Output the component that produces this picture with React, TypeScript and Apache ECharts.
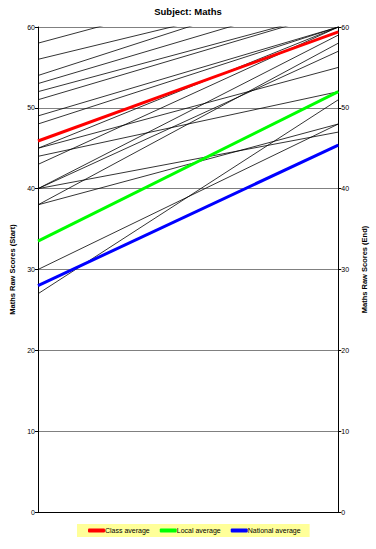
import React, { useEffect, useRef } from "react";
import * as echarts from "echarts";

const stages = ["Start", "End"];
const startScores = [58, 56, 54, 53, 52, 51, 49, 48, 45, 45, 44, 43, 40, 40, 40, 38, 38, 30, 27];
const endScores = [68, 65, 66, 64, 62, 62, 60, 60, 60, 55, 52, 60, 47, 59, 57, 48, 58, 48, 51];
const averageNames = ["Class average", "Local average", "National average"];
const averageStart = [45.9, 33.5, 28];
const averageEnd = [59.4, 52, 45.4];
const averageColors = ["#FF0000", "#00FF00", "#0000FF"];
const yTicks = [0, 10, 20, 30, 40, 50, 60];

export default function App() {
  const ref = useRef<HTMLDivElement>(null);
  useEffect(() => {
    const chart = echarts.init(ref.current!, null, { renderer: "svg" });
    const font = "Arial, 'Liberation Sans', sans-serif";
    const pupilSeries = startScores.map((s, i) => ({
      name: "pupil" + (i + 1),
      type: "line",
      xAxisIndex: 0,
      yAxisIndex: 0,
      data: [s, endScores[i]],
      symbol: "none",
      lineStyle: { color: "#000000", width: 0.8 },
      clip: true,
      silent: true,
    }));
    const avgSeries = averageNames.map((n, i) => ({
      name: n,
      type: "line",
      xAxisIndex: 0,
      yAxisIndex: 0,
      data: [averageStart[i], averageEnd[i]],
      symbol: "none",
      lineStyle: { color: averageColors[i], width: 3 },
      itemStyle: { color: averageColors[i] },
      clip: true,
      z: 5,
    }));
    const yAxisBase = {
      type: "value",
      min: yTicks[0],
      max: yTicks[yTicks.length - 1],
      interval: 10,
      nameLocation: "middle",
      nameTextStyle: { fontSize: 7.5, fontWeight: "bold", color: "#000", fontFamily: font },
      axisLine: { show: true, lineStyle: { color: "#000", width: 1 } },
      axisTick: { show: true, length: 3, inside: false, lineStyle: { color: "#000" } },
      axisLabel: { fontSize: 7, color: "#000", fontFamily: font, margin: 3 },
    };
    chart.setOption({
      animation: false,
      backgroundColor: "#ffffff",
      title: {
        text: "Subject: Maths",
        left: "center",
        top: 1,
        textStyle: { fontSize: 9.5, fontWeight: "bold", color: "#000", fontFamily: font },
      },
      grid: { left: 32, right: 36, top: 27, bottom: 37, containLabel: false },
      legend: {
        data: averageNames,
        bottom: 12,
        left: 77,
        backgroundColor: "#FFFF99",
        padding: [3, 9, 3, 11],
        itemGap: 10,
        itemWidth: 17,
        itemHeight: 4,
        icon: "roundRect",
        textStyle: { fontSize: 7, color: "#000", fontFamily: font, padding: [0, 0, 0, -5] },
      },
      xAxis: [
        {
          type: "category",
          data: stages,
          boundaryGap: false,
          position: "bottom",
          axisLine: { show: true, lineStyle: { color: "#000", width: 1 } },
          axisTick: { show: false },
          axisLabel: { show: false },
          splitLine: { show: false },
        },
        {
          type: "category",
          data: stages,
          boundaryGap: false,
          position: "top",
          axisLine: { show: true, lineStyle: { color: "#000", width: 1 } },
          axisTick: { show: false },
          axisLabel: { show: false },
          splitLine: { show: false },
        },
      ],
      yAxis: [
        {
          ...yAxisBase,
          position: "left",
          name: "Maths Raw Scores (Start)",
          nameGap: 22,
          splitLine: { show: true, lineStyle: { color: "#808080", width: 1 } },
        },
        {
          ...yAxisBase,
          position: "right",
          name: "Maths Raw Scores (End)",
          nameGap: 19,
          splitLine: { show: false },
        },
      ],
      series: [...pupilSeries, ...avgSeries],
    });
    return () => chart.dispose();
  }, []);
  return <div ref={ref} style={{ width: 376, height: 549, position: "absolute", left: 0, top: 0 }} />;
}
